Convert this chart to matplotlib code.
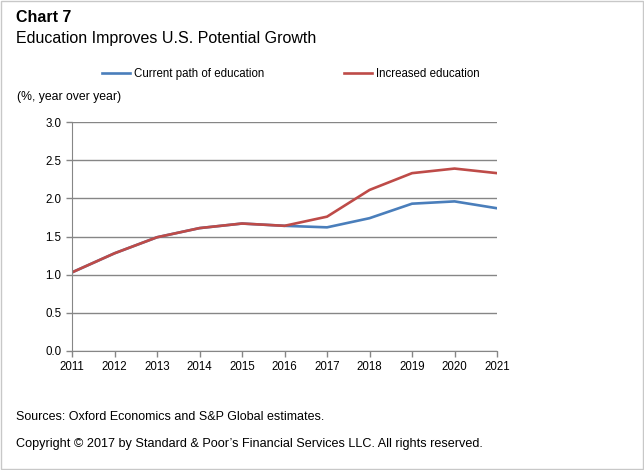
import matplotlib.pyplot as plt
from matplotlib.lines import Line2D
from matplotlib.patches import Rectangle

plt.rcParams['font.family'] = ['Liberation Sans', 'DejaVu Sans']

# Data
years = [2011, 2012, 2013, 2014, 2015, 2016, 2017, 2018, 2019, 2020, 2021]
current_path = [1.03, 1.28, 1.49, 1.61, 1.67, 1.64, 1.62, 1.74, 1.93, 1.96, 1.87]
increased = [1.03, 1.28, 1.49, 1.61, 1.67, 1.64, 1.76, 2.11, 2.33, 2.39, 2.33]
series_names = ['Current path of education', 'Increased education']

blue = '#4a7ebb'
red = '#be4b48'

fig = plt.figure(figsize=(6.44, 4.70), dpi=100)
fig.patches.append(Rectangle((0.002, 0.002), 0.996, 0.996, transform=fig.transFigure,
                             fill=False, edgecolor='#c8c8c8', linewidth=1))

ax = fig.add_axes([0.1118, 0.2532, 0.66, 0.4872])
ax.plot(years, current_path, color=blue, linewidth=1.9)
ax.plot(years, increased, color=red, linewidth=1.9)

ax.set_xlim(2011, 2021)
ax.set_ylim(0, 3.0)
ax.set_xticks(years)
ax.set_yticks([0, 0.5, 1.0, 1.5, 2.0, 2.5, 3.0])
ax.set_yticklabels(['%.1f' % v for v in [0, 0.5, 1.0, 1.5, 2.0, 2.5, 3.0]])
ax.tick_params(labelsize=8.3, length=4, color='#868686', width=1)
ax.grid(axis='y', color='#868686', linewidth=1)
ax.set_axisbelow(True)
for side in ['top', 'right']:
    ax.spines[side].set_visible(False)
for side in ['left', 'bottom']:
    ax.spines[side].set_color('#868686')

# Titles and notes
fig.text(0.025, 0.963, 'Chart 7', fontsize=11.5, fontweight='bold', va='center')
fig.text(0.025, 0.918, 'Education Improves U.S. Potential Growth', fontsize=11.5, va='center')
fig.text(0.027, 0.794, '(%, year over year)', fontsize=8.8, va='center')

# legend entries placed separately, like the original
for color, name, x0 in [(blue, series_names[0], 0.1584), (red, series_names[1], 0.534)]:
    fig.legend([Line2D([], [], color=color, linewidth=1.9)], [name],
               loc='center left', bbox_to_anchor=(x0, 0.843), frameon=False,
               borderpad=0, borderaxespad=0, fontsize=8.3,
               handlelength=2.4, handletextpad=0.35)

fig.text(0.025, 0.113, 'Sources: Oxford Economics and S&P Global estimates.', fontsize=9, va='center')
fig.text(0.025, 0.055, 'Copyright \u00a9 2017 by Standard & Poor\u2019s Financial Services LLC. All rights reserved.',
         fontsize=9.1, va='center')

fig.savefig('out.png', dpi=100)
